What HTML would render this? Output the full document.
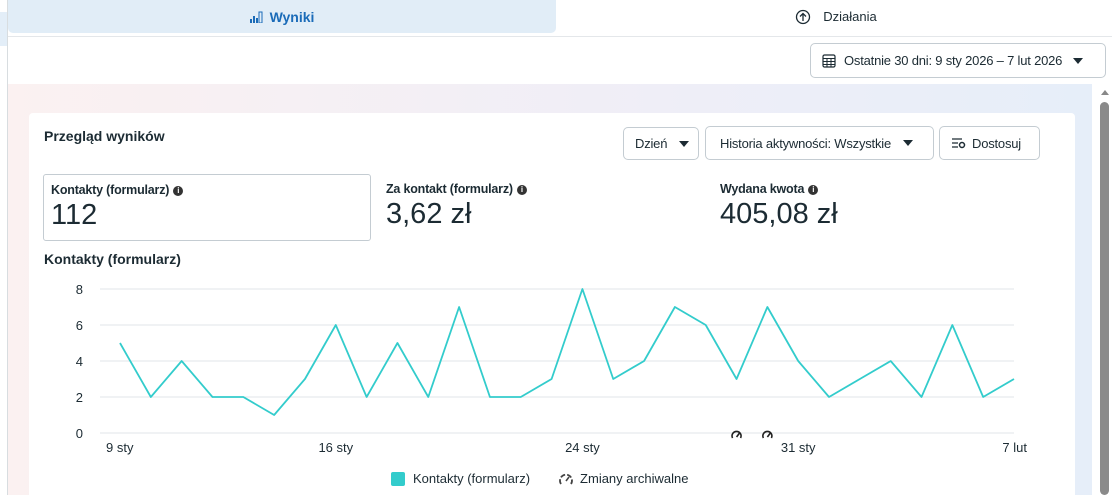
<!DOCTYPE html>
<html><head><meta charset="utf-8"><style>
body{margin:0;width:1114px;height:495px;overflow:hidden;font-family:"Liberation Sans",sans-serif;background:#fff;position:relative;color:#1c2b33}
.abs{position:absolute}
.btn{position:absolute;border:1px solid #c4ccd2;border-radius:5px;background:#fff;font-size:13px;display:flex;align-items:center;box-sizing:border-box;color:#1c2b33;white-space:nowrap;letter-spacing:-0.2px}
.tri{display:inline-block;width:0;height:0;border-left:5px solid transparent;border-right:5px solid transparent;border-top:6px solid #1c2b33;margin-left:12px}
.lbl{font-size:12.5px;font-weight:bold;letter-spacing:-0.2px}
.info{display:inline-block;width:10px;height:10px;border-radius:50%;background:#333;color:#fff;font-size:8px;text-align:center;line-height:10px;margin-left:4px;vertical-align:1px}
.big{font-size:29px;margin-top:2px}
</style></head><body>
<div class="abs" style="left:0;top:12px;width:7px;height:34px;background:#e3eef8"></div>
<div class="abs" style="left:7px;top:0;width:1px;height:495px;background:#d8dde0"></div>
<div class="abs" style="left:8px;top:0;width:548px;height:33px;background:#e1edf7;border-radius:0 0 5px 5px;color:#1a6bb8;font-size:14px;font-weight:bold;display:flex;align-items:center;justify-content:center">
<svg width="14" height="12" style="margin-right:6px"><rect x="0" y="8" width="2" height="4" fill="#1a6bb8"/><rect x="3" y="5" width="2" height="7" fill="#1a6bb8"/><rect x="6" y="7" width="2" height="5" fill="#1a6bb8"/><rect x="9" y="1" width="3" height="11" fill="none" stroke="#1a6bb8"/></svg>Wyniki</div>
<div class="abs" style="left:560px;top:0;width:552px;height:33px;font-size:13px;display:flex;align-items:center;justify-content:center">
<svg width="16" height="16" style="margin-right:12px"><circle cx="8" cy="8" r="6.5" fill="none" stroke="#1c2b33" stroke-width="1.3"/><path d="M8 12V5M5 7.5L8 4.5 11 7.5" fill="none" stroke="#1c2b33" stroke-width="1.3"/></svg>Działania</div>
<div class="abs" style="left:8px;top:36px;width:1104px;height:1px;background:#e4e7ea"></div>
<div class="btn" style="left:810px;top:43px;width:296px;height:35px;padding-left:11px">
<svg width="14" height="14" style="margin-right:8px"><rect x="1" y="1" width="12" height="12" rx="1.5" fill="none" stroke="#1c2b33" stroke-width="1.2"/><path d="M1 4.5H13M1 7.5H13M1 10.5H13M5 4.5V13M9 4.5V13" stroke="#1c2b33" stroke-width="1"/></svg>Ostatnie 30 dni: 9 sty 2026 – 7 lut 2026<span class="tri" style="margin-left:11px"></span></div>
<div class="abs" style="left:8px;top:84px;width:1084px;height:411px;background:linear-gradient(90deg,#fbf1f1,#efeef7 60%,#e6eef9)"></div>
<div class="abs" style="left:1100px;top:102px;width:9px;height:393px;background:#8a8a8a;border-radius:5px"></div>
<div class="abs" style="left:1100px;top:90px;width:0;height:0;border-left:4px solid transparent;border-right:4px solid transparent;border-bottom:5px solid #888;margin-left:1px"></div>
<div class="abs" style="left:29px;top:113px;width:1046px;height:382px;background:#fff;border-radius:4px 4px 0 0"></div>
<div class="abs" style="left:44px;top:128px;font-size:14px;font-weight:bold">Przegląd wyników</div>
<div class="btn" style="left:623px;top:127px;width:76px;height:33px;padding-left:11px">Dzień<span class="tri"></span></div>
<div class="btn" style="left:705px;top:126px;width:229px;height:34px;padding-left:14px">Historia aktywności: Wszystkie<span class="tri"></span></div>
<div class="btn" style="left:939px;top:126px;width:101px;height:34px;padding-left:12px">
<svg width="14" height="12" style="margin-right:6px"><path d="M0 2H10M0 6H6M0 10H6" stroke="#1c2b33" stroke-width="1.2"/><circle cx="10" cy="8" r="2.5" fill="none" stroke="#1c2b33" stroke-width="1.5"/></svg>Dostosuj</div>
<div class="abs" style="left:43px;top:174px;width:328px;height:67px;border:1px solid #c4ccd2;border-radius:3px;box-sizing:border-box;padding:8px 0 0 7px"><div class="lbl">Kontakty (formularz)<span class="info">i</span></div><div class="big">112</div></div>
<div class="abs" style="left:386px;top:182px"><div class="lbl">Za kontakt (formularz)<span class="info">i</span></div><div class="big">3,62 zł</div></div>
<div class="abs" style="left:720px;top:182px"><div class="lbl">Wydana kwota<span class="info">i</span></div><div class="big">405,08 zł</div></div>
<div class="abs" style="left:44px;top:251px;font-size:14px;font-weight:bold">Kontakty (formularz)</div>
<svg class="abs" id="chart" style="left:0;top:0" width="1114" height="495"></svg>
<div class="abs" style="left:391px;top:471px;font-size:13px;display:flex;align-items:center">
<span style="width:14px;height:14px;background:#33cccc;border-radius:2px;margin-right:8px"></span>Kontakty (formularz)
<svg width="16" height="14" style="margin:0 6px 0 28px"><path d="M3 12A6 6 0 1 1 13 12" fill="none" stroke="#444" stroke-width="1.8" stroke-dasharray="5 2"/><path d="M8 9L11 5" stroke="#444" stroke-width="1.6"/></svg>Zmiany archiwalne</div>
<script>
const values=[5,2,4,2,2,1,3,6,2,5,2,7,2,2,3,8,3,4,7,6,3,7,4,2,3,4,2,6,2,3];
const yTicks=[0,2,4,6,8];
const xTickLabels=["9 sty","16 sty","24 sty","31 sty","7 lut"];
const xTickIdx=[0,7,15,22,29];
const archiveIdx=[20,21];
const svg=document.getElementById('chart');const NS='http://www.w3.org/2000/svg';
const x0=120,x1=1014,yb=433,yt=289;
const xs=i=>x0+(x1-x0)*i/(values.length-1);
const ys=v=>yb-(yb-yt)*v/8;
function mk(t,a){const e=document.createElementNS(NS,t);for(const k in a)e.setAttribute(k,a[k]);svg.appendChild(e);return e;}
yTicks.forEach(v=>{const l=mk('line',{x1:100,x2:x1,y1:ys(v),y2:ys(v),stroke:'#e2e5e8','stroke-width':1});


const t=mk('text',{x:83,y:ys(v)+5,'text-anchor':'end','font-size':13,fill:'#1c2b33','font-family':'Liberation Sans'});t.textContent=v;

});
xTickIdx.forEach((idx,j)=>{const anchor=j==0?'start':(j==xTickIdx.length-1?'end':'middle');const xx=j==0?xs(idx)-14:(j==xTickIdx.length-1?xs(idx)+13:xs(idx));
const t=mk('text',{x:xx,y:452,'text-anchor':anchor,'font-size':13,fill:'#1c2b33','font-family':'Liberation Sans'});t.textContent=xTickLabels[j];

});
const p=mk('polyline',{points:values.map((v,i)=>xs(i)+','+ys(v)).join(' '),fill:'none',stroke:'#33cccc','stroke-width':1.8,'stroke-linejoin':'round'});


archiveIdx.forEach(i=>{const g=mk('path',{d:`M${xs(i)-4} ${yb+5}A4.5 4.5 0 1 1 ${xs(i)+4} ${yb+5}M${xs(i)} ${yb+4}L${xs(i)+3} ${yb}`,fill:'none',stroke:'#222','stroke-width':1.6});

});
</script>
</body></html>
